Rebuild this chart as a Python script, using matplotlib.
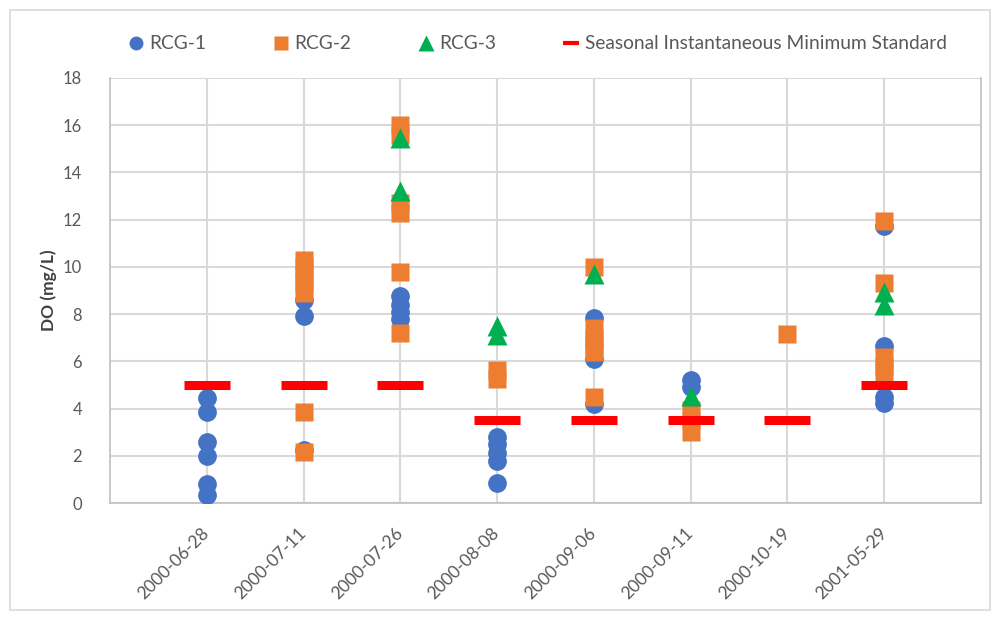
import matplotlib
matplotlib.use("Agg")
import matplotlib.pyplot as plt
from matplotlib.patches import Rectangle
from matplotlib.lines import Line2D

# ---- data ----
dates = ["2000-06-28", "2000-07-11", "2000-07-26", "2000-08-08",
         "2000-09-06", "2000-09-11", "2000-10-19", "2001-05-29"]

rcg1_dates = (["2000-06-28"] * 6 + ["2000-07-11"] * 3 + ["2000-07-26"] * 4 +
              ["2000-08-08"] * 5 + ["2000-09-06"] * 3 + ["2000-09-11"] * 2 +
              ["2001-05-29"] * 4)
rcg1_do = [4.45, 3.85, 2.6, 2.0, 0.8, 0.35,
           8.6, 7.9, 2.25,
           8.75, 8.4, 8.1, 7.8,
           2.8, 2.5, 2.1, 1.8, 0.85,
           7.85, 6.1, 4.2,
           5.2, 4.9,
           11.73, 6.65, 4.5, 4.25]

rcg2_dates = (["2000-07-11"] * 7 + ["2000-07-26"] * 6 + ["2000-08-08"] * 2 +
              ["2000-09-06"] * 6 + ["2000-09-11"] * 3 + ["2000-10-19"] * 1 +
              ["2001-05-29"] * 5)
rcg2_do = [10.3, 10.0, 9.6, 9.3, 8.9, 3.85, 2.15,
           16.0, 15.6, 12.7, 12.3, 9.8, 7.2,
           5.65, 5.25,
           10.0, 7.4, 7.0, 6.7, 6.4, 4.48,
           3.95, 3.5, 3.0,
           7.15,
           11.95, 9.3, 6.2, 5.8, 5.5]

rcg3_dates = ["2000-07-26", "2000-07-26", "2000-08-08", "2000-08-08",
              "2000-09-06", "2000-09-11", "2001-05-29", "2001-05-29"]
rcg3_do = [15.45, 13.2, 7.5, 7.1, 9.7, 4.52, 8.95, 8.4]

standard_dates = dates
standard_do = [5, 5, 5, 3.5, 3.5, 3.5, 3.5, 5]

yticks = list(range(0, 19, 2))

# ---- style ----
BLUE = "#4472C4"
ORANGE = "#ED7D31"
GREEN = "#00B050"
RED = "#FF0000"
GRID = "#D9D9D9"
TXT = "#595959"
plt.rcParams["font.family"] = ["Lato", "DejaVu Sans"]

pos = {d: i + 1 for i, d in enumerate(dates)}

fig = plt.figure(figsize=(9.97, 6.18), dpi=100)
ax = fig.add_axes([110 / 997, 1 - 503 / 618, (981 - 110) / 997, (503 - 78) / 618])

ax.plot([pos[d] for d in rcg1_dates], rcg1_do, "o", color=BLUE, ms=13.5,
        mec="none", zorder=3, label="RCG-1")
ax.plot([pos[d] for d in rcg2_dates], rcg2_do, "s", color=ORANGE, ms=13,
        mec="none", zorder=4, label="RCG-2")
ax.plot([pos[d] for d in rcg3_dates], rcg3_do, "^", color=GREEN, ms=14,
        mec="none", zorder=5, label="RCG-3")
ax.plot([pos[d] for d in standard_dates], standard_do, "_", color=RED, ms=33,
        mew=6.5, zorder=6, label="Seasonal Instantaneous Minimum Standard")

ax.set_xlim(0, len(dates) + 1)
ax.set_ylim(0, 18)
ax.set_yticks(yticks)
ax.set_xticks([pos[d] for d in dates])
ax.set_xticklabels(dates, rotation=45, ha="right", va="center",
                   rotation_mode="anchor", fontsize=12.5, color=TXT)
ax.tick_params(axis="x", length=0, pad=20)
ax.tick_params(axis="y", length=0, pad=20, labelsize=12, labelcolor=TXT)

ax.grid(True, color=GRID, lw=1.5, zorder=0)
ax.set_axisbelow(True)
for s in ax.spines.values():
    s.set_color("#BFBFBF")
    s.set_linewidth(1.2)
ax.spines["top"].set_visible(False)

ax.set_ylabel("DO (mg/L)", fontsize=12.5, fontweight="bold", color="#404040",
              labelpad=4)

handles = [
    Line2D([], [], ls="none", marker="o", color=BLUE, ms=10, mec="none"),
    Line2D([], [], ls="none", marker="s", color=ORANGE, ms=10, mec="none"),
    Line2D([], [], ls="none", marker="^", color=GREEN, ms=11, mec="none"),
    Line2D([], [], ls="none", marker="_", color=RED, ms=11, mew=3),
]
labels = ["RCG-1", "RCG-2", "RCG-3", "Seasonal Instantaneous Minimum Standard"]
fig.legend(handles, labels, loc="center", bbox_to_anchor=(0.539, 0.929),
           ncol=4, frameon=False, fontsize=13.8, labelcolor=TXT,
           handlelength=0.8, handletextpad=0.3, columnspacing=3.5)

fig.patches.append(Rectangle((10 / 997, 1 - 610 / 618), 980 / 997, 600 / 618,
                             transform=fig.transFigure, fill=False,
                             edgecolor="#D9D9D9", lw=1.2))

fig.savefig("out.png", dpi=100, facecolor="white")
